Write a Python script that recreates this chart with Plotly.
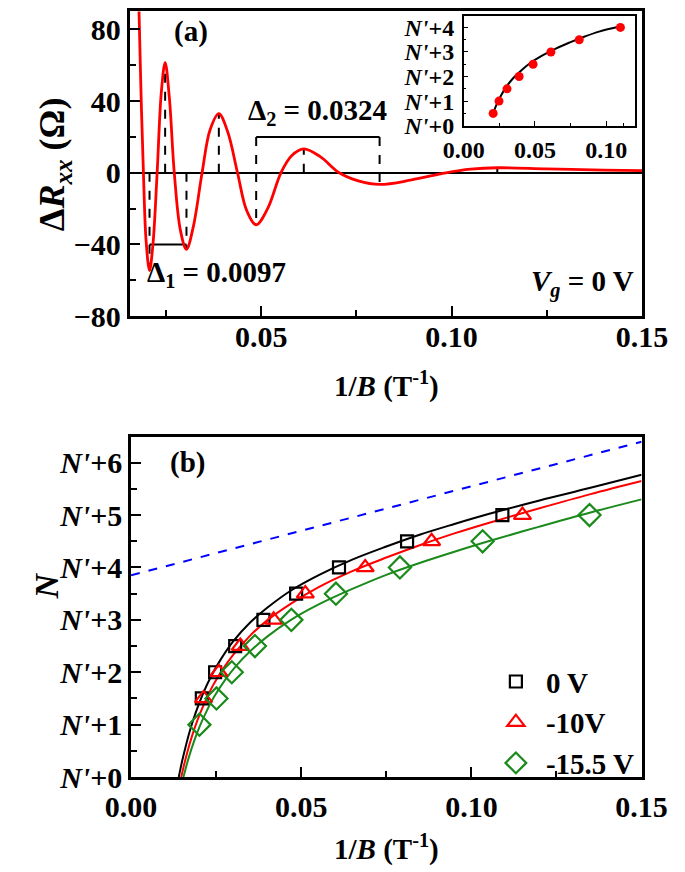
import plotly.graph_objects as go

W, H = 685, 872
FONT = "Liberation Serif, Times New Roman, Times, serif"

# ---------------- Panel (a) data ----------------
a_x = [0.0172, 0.0176, 0.0180, 0.0185, 0.0191, 0.0198, 0.0207, 0.0216, 0.0227, 0.0238,
       0.0248, 0.0259, 0.0272, 0.0288, 0.0304, 0.0322, 0.0345, 0.0366, 0.0389, 0.0412,
       0.0438, 0.0462, 0.0487, 0.0517, 0.0552, 0.0580, 0.0612, 0.0655, 0.0705, 0.0755,
       0.0811, 0.0895, 0.0985, 0.1050, 0.1120, 0.1250, 0.1400, 0.1500]
a_y = [150, 118, 85, 42, 0, -38, -54.5, -40, 0, 45,
       61.5, 42, 0, -32, -42.7, -30, 0, 24, 33, 23,
       0, -21, -29, -20, 0, 9.5, 13.3, 9, 0, -4.5,
       -6.5, -4, 0, 2, 2.8, 2.2, 1.5, 1.2]

ext_x = [0.0207, 0.0248, 0.0304, 0.0389, 0.0487, 0.0612, 0.0811, 0.1120]
ext_y = [-54.5, 61.5, -42.7, 33, -29, 13.3, -6.5, 2.8]
ext_base = [0, 0, 0, 0, 20, 0, 20, 0]

delta1_x = [0.0207, 0.0304]
delta1_level = -40
delta2_x = [0.0487, 0.0811]
delta2_level = 20

# inset data
ins_x = [0.0207, 0.0248, 0.0304, 0.0389, 0.0487, 0.0612, 0.0811, 0.1100]
ins_y = [0.5, 1.0, 1.5, 2.0, 2.5, 3.0, 3.5, 4.0]
ins_fit_x = [0.0200, 0.0235, 0.0265, 0.030, 0.035, 0.040, 0.047, 0.055, 0.065, 0.075, 0.085, 0.095, 0.110]
ins_fit_y = [0.41, 0.92, 1.26, 1.59, 1.95, 2.23, 2.56, 2.85, 3.15, 3.40, 3.63, 3.83, 4.05]

# ---------------- Panel (b) data ----------------
sq_x = [0.0208, 0.0247, 0.0306, 0.0389, 0.0485, 0.0611, 0.0811, 0.1091]
sq_y = [1.5, 2.0, 2.5, 3.0, 3.5, 4.0, 4.5, 5.0]
tri_x = [0.0213, 0.0258, 0.0321, 0.0419, 0.0512, 0.0688, 0.0883, 0.1150]
tri_y = [1.5, 2.0, 2.5, 3.0, 3.5, 4.0, 4.5, 5.0]
dia_x = [0.0201, 0.0251, 0.0296, 0.0364, 0.0471, 0.0602, 0.0790, 0.1033, 0.1347]
dia_y = [1.0, 1.5, 2.0, 2.5, 3.0, 3.5, 4.0, 4.5, 5.0]

fit0_x = [0.01404, 0.0145, 0.0150, 0.0160, 0.0175, 0.0190, 0.0210, 0.0235, 0.0265, 0.030, 0.035,
          0.040, 0.047, 0.055, 0.065, 0.075, 0.085, 0.095, 0.105, 0.120, 0.135, 0.150]
fit0_y = [0.0, 0.15, 0.30, 0.57, 0.93, 1.23, 1.57, 1.92, 2.26, 2.59, 2.95,
          3.23, 3.56, 3.85, 4.15, 4.40, 4.63, 4.83, 5.02, 5.28, 5.52, 5.77]
fit10_x = [0.01476, 0.0155, 0.0165, 0.0180, 0.0195, 0.0215, 0.0240, 0.0270, 0.030, 0.035,
           0.040, 0.047, 0.055, 0.065, 0.075, 0.085, 0.095, 0.105, 0.120, 0.135, 0.150]
fit10_y = [0.0, 0.21, 0.465, 0.80, 1.08, 1.40, 1.74, 2.06, 2.33, 2.70,
           2.99, 3.31, 3.62, 3.93, 4.19, 4.43, 4.65, 4.85, 5.13, 5.40, 5.65]
fit15_x = [0.0154, 0.0160, 0.0170, 0.0185, 0.0200, 0.0220, 0.0245, 0.0275, 0.031, 0.035,
           0.040, 0.047, 0.055, 0.065, 0.075, 0.085, 0.095, 0.105, 0.120, 0.135, 0.150]
fit15_y = [0.0, 0.15, 0.38, 0.68, 0.94, 1.23, 1.54, 1.84, 2.13, 2.40,
           2.68, 3.00, 3.29, 3.59, 3.86, 4.09, 4.30, 4.50, 4.78, 5.05, 5.30]

blue_x = [0.0, 0.15]
blue_y = [3.85, 6.40]

legend_names = ["0 V", "-10V", "-15.5 V"]
nlabels_b = ["<i>N'</i>+%d" % k for k in range(7)]
nlabels_i = ["<i>N'</i>+%d" % k for k in range(5)]


def fx(px):
    return px / W


def fy(py):
    return 1 - py / H


fig = go.Figure()

# ---- panel (a) traces
for xv, yb, ye in zip(ext_x, ext_base, ext_y):
    fig.add_trace(go.Scatter(x=[xv, xv], y=[yb, ye], mode="lines", xaxis="x", yaxis="y",
                             line=dict(color="black", width=2, dash="dash"), showlegend=False))
fig.add_trace(go.Scatter(x=delta1_x, y=[delta1_level] * 2, mode="lines", xaxis="x", yaxis="y",
                         line=dict(color="black", width=2), showlegend=False))
fig.add_trace(go.Scatter(x=delta2_x, y=[delta2_level] * 2, mode="lines", xaxis="x", yaxis="y",
                         line=dict(color="black", width=2), showlegend=False))
fig.add_trace(go.Scatter(x=a_x, y=a_y, mode="lines", xaxis="x", yaxis="y",
                         line=dict(color="red", width=2.8, shape="spline", smoothing=1.0),
                         showlegend=False))

# ---- inset
fig.add_trace(go.Scatter(x=ins_fit_x, y=ins_fit_y, mode="lines", xaxis="x3", yaxis="y3",
                         line=dict(color="black", width=2, shape="spline"), showlegend=False))
fig.add_trace(go.Scatter(x=ins_x, y=ins_y, mode="markers", xaxis="x3", yaxis="y3",
                         marker=dict(color="red", size=9), showlegend=False))

# ---- panel (b)
GREEN = "#1a8a1a"
fig.add_trace(go.Scatter(x=blue_x, y=blue_y, mode="lines", xaxis="x2", yaxis="y2",
                         line=dict(color="#0000ff", width=2, dash="dash"), showlegend=False))
for fxs, fys, col in [(fit0_x, fit0_y, "black"), (fit10_x, fit10_y, "red"), (fit15_x, fit15_y, GREEN)]:
    fig.add_trace(go.Scatter(x=fxs, y=fys, mode="lines", xaxis="x2", yaxis="y2",
                             line=dict(color=col, width=2, shape="spline"), showlegend=False))
fig.add_trace(go.Scatter(x=sq_x, y=sq_y, mode="markers", xaxis="x2", yaxis="y2", name=legend_names[0],
                         marker=dict(symbol="square-open", size=12, color="black", line=dict(width=2.2))))
fig.add_trace(go.Scatter(x=tri_x, y=tri_y, mode="markers", xaxis="x2", yaxis="y2", name=legend_names[1],
                         marker=dict(symbol="triangle-up-open", size=15, color="red", line=dict(width=2.2))))
fig.add_trace(go.Scatter(x=dia_x, y=dia_y, mode="markers", xaxis="x2", yaxis="y2", name=legend_names[2],
                         marker=dict(symbol="diamond-open", size=17, color=GREEN, line=dict(width=2.2))))

tickfont = dict(family=FONT, size=30, color="black", weight="bold")
tickfont_i = dict(family=FONT, size=24, color="black", weight="bold")

common = dict(showline=True, linecolor="black", linewidth=2.5, mirror=True, showgrid=False,
              ticks="inside", ticklen=10, tickwidth=2, tickcolor="black", tickfont=tickfont)
minor_style = dict(ticks="inside", ticklen=6, tickwidth=2, tickcolor="black")

fig.update_layout(
    width=W, height=H,
    margin=dict(l=0, r=0, t=0, b=0),
    paper_bgcolor="white", plot_bgcolor="white",
    font=dict(family=FONT, color="black", weight="bold"),
    xaxis=dict(domain=[fx(104.4), fx(658)], range=[0.0157, 0.15], anchor="y",
               tickvals=[0.05, 0.10, 0.15], ticktext=["0.05", "0.10", "0.15"],
               minor=dict(tickvals=[0.025, 0.075, 0.125], **minor_style),
               zeroline=False, ticklabelstandoff=-8, **common),
    yaxis=dict(domain=[fy(313.3), fy(2.5)], range=[-80, 90], anchor="x",
               tickvals=[-80, -40, 0, 40, 80],
               minor=dict(tickvals=[-60, -20, 20, 60], **minor_style),
               zeroline=True, zerolinecolor="black", zerolinewidth=2,
               ticklabelstandoff=1, **common),
    xaxis2=dict(domain=[fx(105), fx(657.5)], range=[0, 0.15], anchor="y2",
                tickvals=[0, 0.05, 0.10, 0.15], ticktext=["0.00", "0.05", "0.10", "0.15"],
                minor=dict(tickvals=[0.025, 0.075, 0.125], **minor_style),
                zeroline=False, ticklabelstandoff=1, **common),
    yaxis2=dict(domain=[fy(783.3), fy(436)], range=[0, 6.5], anchor="x2",
                tickvals=list(range(7)), ticktext=nlabels_b,
                minor=dict(tickvals=[0.5, 1.5, 2.5, 3.5, 4.5, 5.5], **minor_style),
                zeroline=False, ticklabelstandoff=0, **common),
    xaxis3=dict(domain=[fx(465), fx(650)], range=[0, 0.12], anchor="y3",
                showline=True, linecolor="black", linewidth=1.5, mirror=True, showgrid=False,
                ticks="inside", ticklen=5, tickwidth=1.2, tickcolor="black",
                tickvals=[0, 0.05, 0.10], ticktext=["0.00", "0.05", "0.10"], tickfont=tickfont_i,
                minor=dict(ticks="inside", ticklen=3, tickwidth=1, tickcolor="black",
                           tickvals=[0.025, 0.075, 0.1125]),
                zeroline=False, ticklabelstandoff=2),
    yaxis3=dict(domain=[fy(119), fy(7)], range=[0, 4.47], anchor="x3",
                showline=True, linecolor="black", linewidth=1.5, mirror=True, showgrid=False,
                ticks="inside", ticklen=5, tickwidth=1.2, tickcolor="black",
                tickvals=list(range(5)), ticktext=nlabels_i, tickfont=tickfont_i,
                minor=dict(ticks="inside", ticklen=3, tickwidth=1, tickcolor="black",
                           tickvals=[0.5, 1.5, 2.5, 3.5]),
                zeroline=False, ticklabelstandoff=3),
    legend=dict(x=fx(489), y=fy(660), xanchor="left", yanchor="top",
                font=dict(family=FONT, size=29, color="black", weight="bold"),
                bgcolor="rgba(0,0,0,0)", tracegroupgap=0, itemsizing="trace", itemwidth=50),
)

ann_font = dict(family=FONT, size=29, color="black", weight="bold")
anns = [
    dict(text="(a)", x=fx(170), y=fy(23)),
    dict(text="Δ<sub>2</sub> = 0.0324", x=fx(307), y=fy(105)),
    dict(text="Δ<sub>1</sub> = 0.0097", x=fx(198), y=fy(270)),
    dict(text="<i>V</i><sub><i>g</i></sub> = 0 V", x=fx(594), y=fy(280)),
    dict(text="1/<i>B</i> (T<sup>-1</sup>)", x=fx(381), y=fy(383)),
    dict(text="(b)", x=fx(166), y=fy(463)),
    dict(text="1/<i>B</i> (T<sup>-1</sup>)", x=fx(381), y=fy(855)),
]
for a in anns:
    fig.add_annotation(xref="paper", yref="paper", showarrow=False, xanchor="center", yanchor="middle",
                       font=ann_font, **a)
fig.add_annotation(text="Δ<i>R</i><sub><i>xx</i></sub> (Ω)", x=fx(23), y=fy(158), xref="paper", yref="paper",
                   xanchor="center", yanchor="middle",
                   showarrow=False, textangle=-90, font=dict(family=FONT, size=36, color="black", weight="bold"))
fig.add_annotation(text="<i>N</i>", x=fx(14), y=fy(588), xref="paper", yref="paper",
                   xanchor="center", yanchor="middle",
                   showarrow=False, textangle=-90, font=dict(family=FONT, size=34, color="black", weight="bold"))

fig.write_html("out.html")
